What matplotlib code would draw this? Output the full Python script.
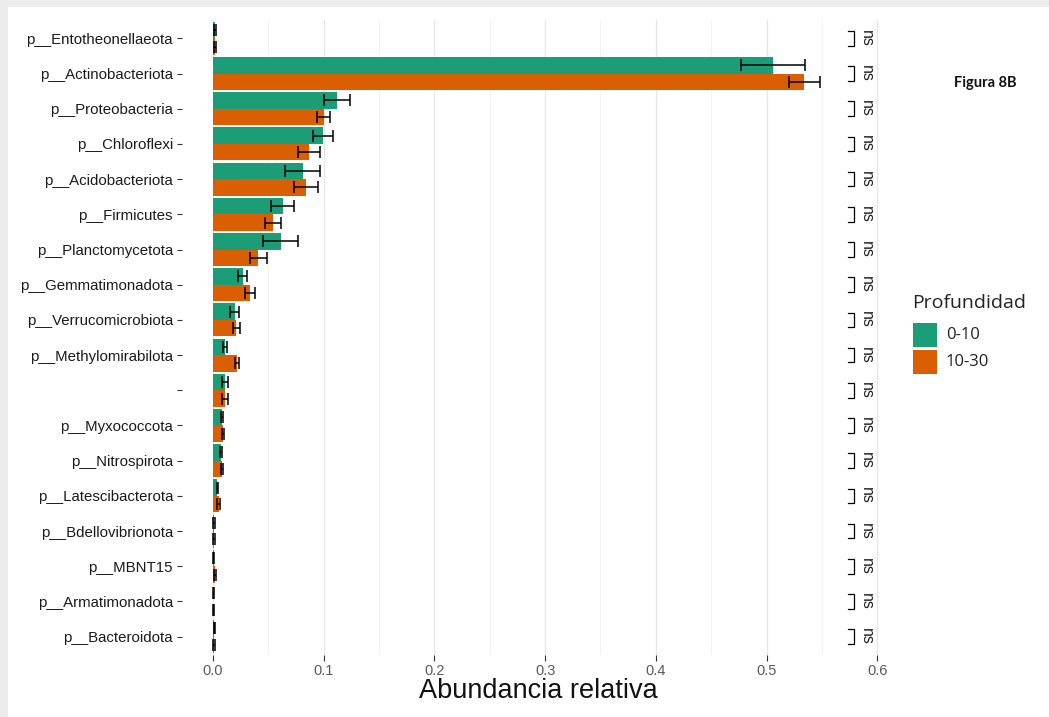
import matplotlib
matplotlib.use("Agg")
import matplotlib.pyplot as plt
import matplotlib.patches as mpatches
from matplotlib.ticker import MultipleLocator
import numpy as np

# Phylum-level relative abundance by sampling depth
phyla = [
    "p__Entotheonellaeota", "p__Actinobacteriota", "p__Proteobacteria",
    "p__Chloroflexi", "p__Acidobacteriota", "p__Firmicutes",
    "p__Planctomycetota", "p__Gemmatimonadota", "p__Verrucomicrobiota",
    "p__Methylomirabilota", "", "p__Myxococcota", "p__Nitrospirota",
    "p__Latescibacterota", "p__Bdellovibrionota", "p__MBNT15",
    "p__Armatimonadota", "p__Bacteroidota",
]
mean_0_10 = [0.002, 0.506, 0.112, 0.099, 0.081, 0.063, 0.061, 0.027, 0.0196,
             0.011, 0.011, 0.008, 0.007, 0.004, 0.001, 0.0005, 0.0003, 0.001]
err_0_10 = [0.001, 0.029, 0.012, 0.009, 0.016, 0.0105, 0.016, 0.004, 0.004,
            0.002, 0.003, 0.001, 0.001, 0.0008, 0.0008, 0.0005, 0.0003, 0.0005]
mean_10_30 = [0.002, 0.534, 0.100, 0.087, 0.084, 0.054, 0.041, 0.0335, 0.021,
              0.0217, 0.011, 0.009, 0.008, 0.005, 0.001, 0.002, 0.0003, 0.001]
err_10_30 = [0.001, 0.014, 0.006, 0.010, 0.011, 0.007, 0.0077, 0.0045, 0.003,
             0.002, 0.003, 0.001, 0.001, 0.0015, 0.0008, 0.001, 0.0003, 0.0008]
signif = ["ns"] * len(phyla)
groups = ["0-10", "10-30"]
colors = ["#1b9e77", "#d95f02"]

W, H = 1049, 717
fig = plt.figure(figsize=(W / 100, H / 100), dpi=100, facecolor="#ececec")
# white page area behind everything
fig.patches.append(mpatches.Rectangle((8 / W, 0), 1 - 8 / W, 1 - 7 / H,
                                      transform=fig.transFigure,
                                      facecolor="white", edgecolor="none",
                                      zorder=-10))

left, right, top, bottom = 182, 895, 20, 655
ax = fig.add_axes([left / W, 1 - bottom / H, (right - left) / W, (bottom - top) / H])
ax.set_zorder(1)
ax.set_facecolor("none")

y = np.arange(len(phyla))
bh = 0.47
ek = dict(ecolor="black", elinewidth=1.1, capsize=4, capthick=1.1)
ax.barh(y - bh / 2, mean_0_10, height=bh, color=colors[0], xerr=err_0_10,
        error_kw=ek, zorder=2)
ax.barh(y + bh / 2, mean_10_30, height=bh, color=colors[1], xerr=err_10_30,
        error_kw=ek, zorder=2)

# significance brackets
bx, tick = 0.579, 0.005
for i, s in enumerate(signif):
    y0, y1 = i - 0.21, i + 0.21
    ax.plot([bx - tick, bx, bx, bx - tick], [y0, y0, y1, y1], color="black",
            lw=0.9, zorder=3, solid_joinstyle="miter")
    ax.text(bx + 0.0115, i, s, rotation=270, ha="center", va="center",
            fontsize=11.5, family="Liberation Sans", color="#222222")

ax.set_xlim((left - 213) / 1107, (right - 213) / 1107)
ax.set_ylim(len(phyla) - 0.48, -0.52)
ax.xaxis.set_major_locator(MultipleLocator(0.1))
ax.xaxis.set_minor_locator(MultipleLocator(0.05))
ax.set_xticks([0.0, 0.1, 0.2, 0.3, 0.4, 0.5, 0.6])
ax.set_xticklabels(["0.0", "0.1", "0.2", "0.3", "0.4", "0.5", "0.6"])
ax.grid(axis="x", which="major", color="#e6e6e6", lw=0.9, zorder=0)
ax.grid(axis="x", which="minor", color="#f2f2f2", lw=0.7, zorder=0)
ax.set_axisbelow(True)
for sp in ax.spines.values():
    sp.set_visible(False)

ax.set_yticks(y)
ax.set_yticklabels(phyla, family="Liberation Sans", fontsize=10.8, color="#1a1a1a")
ax.tick_params(axis="y", length=3.5, width=0.8, color="#333333", pad=3)
ax.tick_params(axis="x", which="major", length=4, width=0.8, color="#333333",
               pad=2.5, labelsize=10.5, labelcolor="#5a5a5a")
ax.tick_params(axis="x", which="minor", length=0)
for lab in ax.get_xticklabels():
    lab.set_family("Liberation Sans")
ax.set_xlabel("Abundancia relativa", family="Liberation Sans", fontsize=19.5,
              color="#111111", labelpad=0)

# legend
fig.text(912 / W, 1 - 303 / H, "Profundidad", family="Open Sans", fontsize=14,
         va="center", ha="left", color="#222222")
for k, (g, c) in enumerate(zip(groups, colors)):
    ytop = 323 + k * 27
    fig.patches.append(mpatches.Rectangle((913 / W, 1 - (ytop + 24) / H),
                                          24 / W, 24 / H,
                                          transform=fig.transFigure,
                                          facecolor=c, edgecolor="none"))
    fig.text(946 / W, 1 - (ytop + 12) / H, g, family="Open Sans", fontsize=12,
             va="center", ha="left", color="#222222")

fig.text(985 / W, 1 - 83 / H, "Figura 8B", family="Lato", fontweight="bold",
         fontsize=10.5, ha="center", va="center", color="#111111")

fig.savefig("out.png", dpi=100, facecolor=fig.get_facecolor())
